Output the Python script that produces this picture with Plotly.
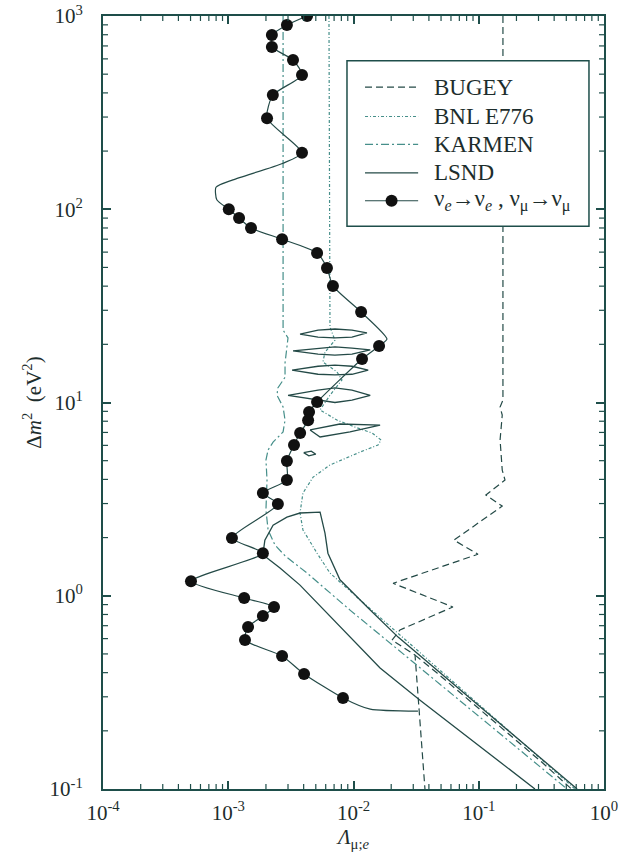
import math
import plotly.graph_objects as go

# Exclusion / allowed curves in the (Lambda_{mu;e}, Delta m^2) plane.
# x: Lambda_{mu;e}, y: Delta m^2 in eV^2.  None separates pieces of one curve.

bugey_x = [0.156, 0.156, 0.148, 0.154, 0.148, 0.154, 0.162, 0.114, 0.154, 0.0634,
           0.0986, 0.0207, 0.0622, 0.0235, 0.0203, 0.031, 0.0372,
           None, 0.031, 0.0465, 0.326, 0.55]
bugey_y = [1000, 10.3, 9.48, 8.6, 6.4, 4.47, 3.97, 3.32, 2.91, 1.94,
           1.64, 1.16, 0.875, 0.665, 0.59, 0.493, 0.1,
           None, 0.493, 0.398, 0.136, 0.1]

e776_x = [6.37e-3, 6.49e-3, 7.11e-3, 5.92e-3, 5.70e-3, 7.38e-3, 8.09e-3, 6.49e-3,
          5.41e-3, 7.38e-3, 0.0103, 0.0141, 0.0166, 0.0157, 0.0113, 6.49e-3,
          4.76e-3, 3.95e-3, 3.74e-3, 3.95e-3, 5.12e-3, 6.49e-3, 0.0113, 0.587]
e776_y = [1000, 24.6, 21.0, 18.2, 16.2, 14.4, 13.1, 10.9,
          9.15, 8.11, 7.46, 6.95, 6.40, 6.03, 5.54, 4.75,
          4.11, 3.40, 2.68, 2.19, 1.66, 1.31, 0.951, 0.1]

karmen_x = [2.74e-3, 2.74e-3, 3.0e-3, 2.84e-3, 2.84e-3, 2.49e-3, 2.45e-3, 2.74e-3,
            2.84e-3, 2.74e-3, 2.28e-3, 2.08e-3, 2.0e-3, 2.04e-3, 2.0e-3, 2.08e-3,
            2.36e-3, 2.84e-3, 4.26e-3, 9.38e-3, 0.507]
karmen_y = [1000, 23.7, 21.6, 16.0, 13.5, 11.9, 10.9, 9.48,
            8.11, 7.04, 6.24, 5.68, 5.04, 3.97, 2.78, 2.19,
            1.83, 1.61, 1.31, 0.843, 0.1]

# LSND allowed band (open at the bottom axis)
lsnd_x = [0.281, 0.034, 0.0163, 7.8e-3, 3.74e-3, 2.59e-3, 1.89e-3, 1.96e-3, 2.28e-3,
          2.94e-3, 3.74e-3, 5.41e-3, 5.92e-3, 6.25e-3, 7.8e-3, 0.0131, 0.0227, 0.61]
lsnd_y = [0.1, 0.288, 0.423, 0.689, 1.135, 1.39, 1.63, 1.94, 2.32,
          2.55, 2.68, 2.71, 2.11, 1.66, 1.21, 0.864, 0.611, 0.1]

# LSND islands at large Delta m^2 (closed loops)
island1_x = [3.74e-3, 5.21e-3, 7.11e-3, 9.72e-3, 0.0128, 9.72e-3, 7.11e-3, 5.21e-3, 3.74e-3]
island1_y = [22.6, 23.7, 24.0, 23.7, 22.9, 21.8, 21.6, 21.8, 22.6]
island2_x = [3.29e-3, 5.21e-3, 7.11e-3, 9.72e-3, 0.0136, 9.72e-3, 7.11e-3, 5.21e-3, 3.29e-3]
island2_y = [18.5, 19.1, 19.4, 19.1, 18.7, 17.8, 17.6, 17.8, 18.5]
island3_x = [3.23e-3, 5.21e-3, 7.11e-3, 9.72e-3, 0.0131, 9.72e-3, 7.11e-3, 5.21e-3, 3.23e-3]
island3_y = [14.7, 15.4, 15.6, 15.4, 14.7, 14.0, 13.9, 14.0, 14.7]
island4_x = [3.0e-3, 5.21e-3, 7.11e-3, 9.72e-3, 0.0136, 9.72e-3, 7.11e-3, 5.21e-3, 3.0e-3]
island4_y = [10.9, 11.6, 11.9, 11.6, 10.9, 10.3, 10.0, 10.3, 10.9]
island5_x = [4.5e-3, 7.8e-3, 0.0163, 9.38e-3, 5.41e-3, 4.5e-3]
island5_y = [7.21, 7.74, 7.64, 7.04, 6.63, 7.21]
island6_x = [4.0e-3, 4.6e-3, 5.0e-3, 4.4e-3, 4.0e-3]
island6_y = [5.5, 5.6, 5.4, 5.3, 5.5]

# nu_e -> nu_e , nu_mu -> nu_mu : computed points and the curve through them
nu_x = [4.26e-3, 2.94e-3, 2.23e-3, 2.23e-3, 3.29e-3, 3.88e-3, 2.27e-3, 2.04e-3, 3.88e-3,
        1.01e-3, 1.22e-3, 1.52e-3, 2.69e-3, 5.12e-3, 6.14e-3, 6.85e-3, 1.15e-2, 1.60e-2,
        1.17e-2, 5.12e-3, 4.42e-3, 4.34e-3, 3.75e-3, 3.35e-3, 2.94e-3, 2.94e-3, 1.89e-3,
        2.49e-3, 1.07e-3, 1.89e-3, 5.04e-4, 1.34e-3, 2.32e-3, 1.89e-3, 1.44e-3, 1.36e-3,
        2.69e-3, 4.03e-3, 8.24e-3]
nu_y = [1000, 898, 797, 692, 592, 495, 390, 296, 196,
        100, 90, 80, 70, 59.4, 49.7, 40.1, 29.4, 19.6,
        16.8, 10.06, 8.93, 8.1, 6.95, 6.03, 4.98, 3.97, 3.40,
        2.98, 1.99, 1.66, 1.19, 0.973, 0.875, 0.785, 0.689, 0.590,
        0.488, 0.394, 0.296]
nu_curve_x = [4.26e-3, 2.94e-3, 2.23e-3, 2.23e-3, 3.29e-3, 3.88e-3, 2.27e-3, 2.04e-3, 3.88e-3,
              2.74e-3, 1.09e-3, 7.98e-4, 8.1e-4, 1.01e-3, 1.22e-3, 1.52e-3, 2.69e-3, 5.12e-3,
              6.14e-3, 6.85e-3, 1.15e-2, 1.85e-2, 1.60e-2, 1.17e-2, 5.12e-3, 4.42e-3, 4.34e-3,
              3.75e-3, 3.35e-3, 2.94e-3, 2.94e-3, 1.89e-3, 2.49e-3, 1.07e-3, 1.89e-3, 5.04e-4,
              1.34e-3, 2.32e-3, 1.89e-3, 1.44e-3, 1.36e-3, 2.69e-3, 4.03e-3, 8.24e-3, 1.36e-2,
              3.27e-2]
nu_curve_y = [1000, 898, 797, 692, 592, 495, 390, 296, 196,
              173, 142, 130, 112, 100, 90, 80, 70, 59.4,
              49.7, 40.1, 29.4, 21.3, 19.6, 16.8, 10.06, 8.93, 8.1,
              6.95, 6.03, 4.98, 3.97, 3.40, 2.98, 1.99, 1.66, 1.19,
              0.973, 0.875, 0.785, 0.689, 0.590, 0.488, 0.394, 0.296, 0.259,
              0.253]

x_range_log = [-4, 0]
y_range_log = [-1, 3]
x_tickvals = [1e-4, 1e-3, 1e-2, 1e-1, 1]
x_ticktext = ["10<sup>-4</sup>", "10<sup>-3</sup>", "10<sup>-2</sup>", "10<sup>-1</sup>", "10<sup>0</sup>"]
y_tickvals = [0.1, 1, 10, 100, 1000]
y_ticktext = ["10<sup>-1</sup>", "10<sup>0</sup>", "10<sup>1</sup>", "10<sup>2</sup>", "10<sup>3</sup>"]

legend_labels = ["BUGEY", "BNL E776", "KARMEN", "LSND",
                 "ν<sub><i>e</i></sub>→ν<sub><i>e</i></sub> , ν<sub>μ</sub>→ν<sub>μ</sub>"]

AXIS = "#1e4e4a"
DARK = "#244a47"
LIGHT = "#468f8a"
TEXT = "#1d2d2c"
FONT = "Liberation Serif"

styles = {
    "BUGEY": dict(color=DARK, width=1.2, dash="7px,4px"),
    "BNL E776": dict(color=LIGHT, width=1.2, dash="3px,2px,1px,2px"),
    "KARMEN": dict(color=LIGHT, width=1.2, dash="8px,3px,2px,3px"),
    "LSND": dict(color=DARK, width=1.3),
    "NU": dict(color=DARK, width=1.2),
}


def joined(*pieces):
    xs, ys = [], []
    for px, py in pieces:
        if xs:
            xs.append(None)
            ys.append(None)
        xs.extend(px)
        ys.extend(py)
    return xs, ys


lsnd_all_x, lsnd_all_y = joined((lsnd_x, lsnd_y), (island1_x, island1_y), (island2_x, island2_y),
                                (island3_x, island3_y), (island4_x, island4_y),
                                (island5_x, island5_y), (island6_x, island6_y))

fig = go.Figure()
fig.add_trace(go.Scatter(x=bugey_x, y=bugey_y, mode="lines", name="BUGEY",
                         line=styles["BUGEY"]))
fig.add_trace(go.Scatter(x=e776_x, y=e776_y, mode="lines", name="BNL E776",
                         line=styles["BNL E776"]))
fig.add_trace(go.Scatter(x=karmen_x, y=karmen_y, mode="lines", name="KARMEN",
                         line=styles["KARMEN"]))
fig.add_trace(go.Scatter(x=lsnd_all_x, y=lsnd_all_y, mode="lines", name="LSND",
                         line=styles["LSND"]))
fig.add_trace(go.Scatter(x=nu_curve_x, y=nu_curve_y, mode="lines", name="nu curve",
                         line=dict(styles["NU"], shape="spline", smoothing=0.6),
                         hoverinfo="skip"))
fig.add_trace(go.Scatter(x=nu_x, y=nu_y, mode="markers", name="nu points",
                         marker=dict(color="#111111", size=12)))

shapes = []

# ---- sub-decade tick marks (2..9) on all four sides, in axis-domain units ----
MINOR_LEN_X = 5 / 501   # fraction of plot width
MINOR_LEN_Y = 5 / 773   # fraction of plot height
for e in range(x_range_log[0], x_range_log[1]):
    for m in range(2, 10):
        f = (math.log10(m) + e - x_range_log[0]) / (x_range_log[1] - x_range_log[0])
        for y0, y1 in ((0, MINOR_LEN_Y), (1 - MINOR_LEN_Y, 1)):
            shapes.append(dict(type="line", xref="x domain", yref="y domain",
                               x0=f, x1=f, y0=y0, y1=y1,
                               line=dict(color=AXIS, width=1.2), layer="above"))
for e in range(y_range_log[0], y_range_log[1]):
    for m in range(2, 10):
        f = (math.log10(m) + e - y_range_log[0]) / (y_range_log[1] - y_range_log[0])
        for x0, x1 in ((0, MINOR_LEN_X), (1 - MINOR_LEN_X, 1)):
            shapes.append(dict(type="line", xref="x domain", yref="y domain",
                               x0=x0, x1=x1, y0=f, y1=f,
                               line=dict(color=AXIS, width=1.2), layer="above"))

# ---- key box, drawn in paper coordinates ----
box_x0, box_x1, box_y0, box_y1 = 0.487, 0.970, 0.728, 0.942
row_y = [0.908, 0.870, 0.834, 0.797, 0.761]
sample_x0, sample_x1, text_x = 0.523, 0.629, 0.657

shapes.append(dict(type="rect", xref="paper", yref="paper", x0=box_x0, x1=box_x1,
                   y0=box_y0, y1=box_y1, line=dict(color=AXIS, width=1.5),
                   fillcolor="white", layer="above"))
annotations = []
for key, label, ry in zip(["BUGEY", "BNL E776", "KARMEN", "LSND", "NU"], legend_labels, row_y):
    shapes.append(dict(type="line", xref="paper", yref="paper", x0=sample_x0, x1=sample_x1,
                       y0=ry, y1=ry, line=styles[key], layer="above"))
    annotations.append(dict(xref="paper", yref="paper", x=text_x, y=ry, text=label,
                            xanchor="left", yanchor="middle", showarrow=False,
                            font=dict(family=FONT, size=23, color=TEXT)))
# the point symbol of the key
mx = (sample_x0 + sample_x1) / 2
shapes.append(dict(type="circle", xref="paper", yref="paper",
                   x0=mx - 0.012, x1=mx + 0.012, y0=row_y[4] - 0.0078, y1=row_y[4] + 0.0078,
                   fillcolor="#111111", line=dict(color="#111111", width=0), layer="above"))

common = dict(type="log", ticks="inside", ticklen=8, tickwidth=1.5, tickcolor=AXIS,
              showline=True, linecolor=AXIS, linewidth=2, mirror="allticks",
              showgrid=False, zeroline=False, tickmode="array", automargin=False,
              tickfont=dict(family=FONT, size=21, color=TEXT))

fig.update_layout(
    xaxis=dict(range=x_range_log, tickvals=x_tickvals, ticktext=x_ticktext,
               ticklabelstandoff=4,
               title=dict(text="<i>Λ</i><sub>μ;<i>e</i></sub>", standoff=0,
                          font=dict(family=FONT, size=21, color=TEXT)),
               **common),
    yaxis=dict(range=y_range_log, tickvals=y_tickvals, ticktext=y_ticktext,
               ticklabelstandoff=14,
               title=dict(text="Δ<i>m</i><sup>2</sup>  (eV<sup>2</sup>)", standoff=2,
                          font=dict(family=FONT, size=21, color=TEXT)),
               **common),
    width=633, height=864,
    margin=dict(l=103, r=29, t=16, b=75),
    plot_bgcolor="white", paper_bgcolor="white",
    font=dict(family=FONT, size=21, color=TEXT),
    showlegend=False,
    shapes=shapes,
    annotations=annotations,
)

fig.write_html("out.html")
